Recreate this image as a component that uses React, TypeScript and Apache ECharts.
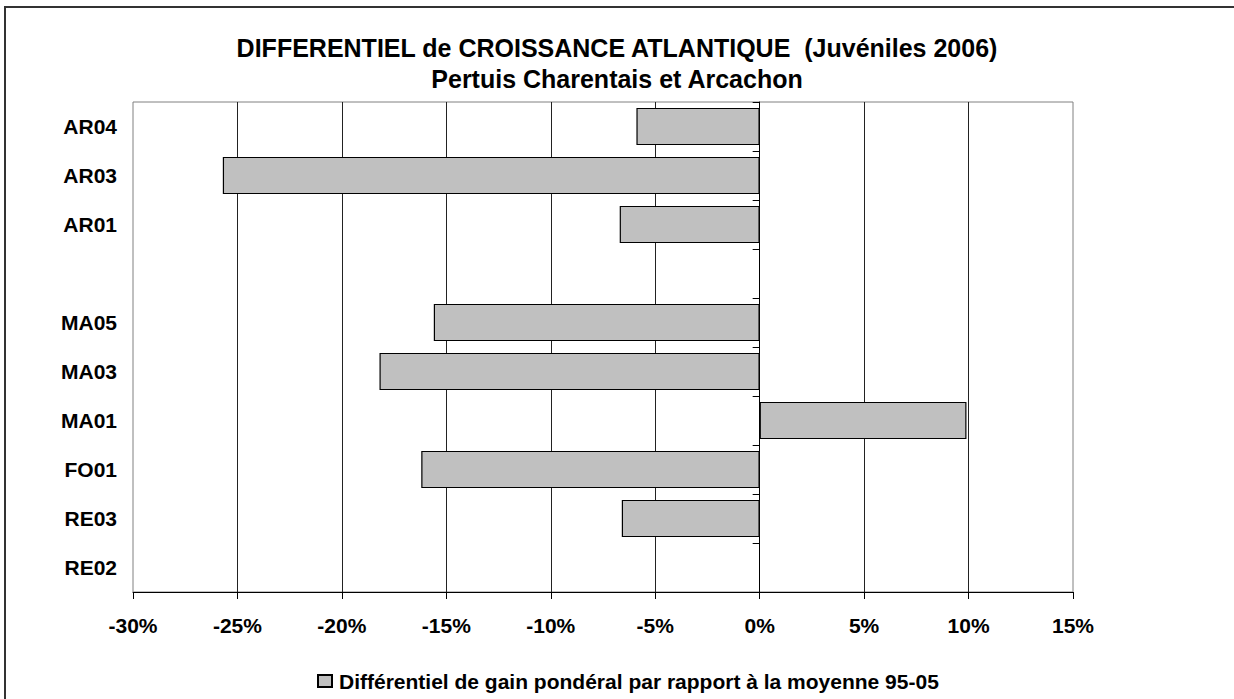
import React, { useEffect, useRef } from "react";
import * as echarts from "echarts";

const categories = ["RE02", "RE03", "FO01", "MA01", "MA03", "MA05", "", "AR01", "AR03", "AR04"];
const values: (number | null)[] = [null, -6.6, -16.2, 9.9, -18.2, -15.6, null, -6.7, -25.7, -5.9];
const seriesName = "Différentiel de gain pondéral par rapport à la moyenne 95-05";
const titleLines = ["DIFFERENTIEL de CROISSANCE ATLANTIQUE  (Juvéniles 2006)", "Pertuis Charentais et Arcachon"];
const xMin = -30;
const xMax = 15;
const xStep = 5;

const FONT = "'Liberation Sans', Arial, sans-serif";

export default function App() {
  const ref = useRef<HTMLDivElement>(null);
  useEffect(() => {
    if (!ref.current) return;
    const chart = echarts.init(ref.current, null, { renderer: "svg" });
    chart.setOption({
      animation: false,
      backgroundColor: "#ffffff",
      textStyle: { fontFamily: FONT },
      graphic: [
        {
          type: "rect",
          shape: { x: 5, y: 7, width: 1240, height: 700 },
          style: { fill: "none", stroke: "#333", lineWidth: 2 },
          silent: true,
        },
      ],
      title: {
        text: titleLines.join("\n"),
        left: "center",
        top: 27,
        textStyle: {
          fontFamily: FONT,
          fontWeight: "bold",
          fontSize: 25,
          lineHeight: 31,
          color: "#000",
          align: "center",
        },
      },
      legend: {
        left: 312,
        top: 664,
        icon: "rect",
        itemWidth: 14,
        itemHeight: 12,
        textStyle: {
          fontFamily: FONT,
          fontWeight: "bold",
          fontSize: 21,
          lineHeight: 24,
          color: "#000",
          padding: [0, 0, 0, 2],
        },
        data: [seriesName],
      },
      grid: {
        left: 133,
        top: 102,
        width: 940,
        height: 490,
        containLabel: false,
        outerBoundsMode: "none",
        show: true,
        borderColor: "#808080",
        borderWidth: 1,
        backgroundColor: "transparent",
      },
      xAxis: {
        type: "value",
        min: xMin,
        max: xMax,
        interval: xStep,
        axisLine: { show: true, lineStyle: { color: "#000", width: 1 } },
        axisTick: { show: true, length: 7, inside: false, lineStyle: { color: "#000" } },
        axisLabel: {
          formatter: (v: number) => `${v}%`,
          fontFamily: FONT,
          fontWeight: "bold",
          fontSize: 21,
          color: "#000",
          margin: 23,
        },
        splitLine: {
          show: true,
          showMinLine: false,
          showMaxLine: false,
          lineStyle: { color: "#222", width: 1 },
        },
      },
      yAxis: [
        {
          type: "category",
          data: categories,
          position: "left",
          axisLine: { show: false, onZero: false },
          axisTick: { show: false },
          axisLabel: {
            fontFamily: FONT,
            fontWeight: "bold",
            fontSize: 21,
            color: "#000",
            margin: 16,
            interval: 0,
          },
          splitLine: { show: false },
        },
        {
          type: "category",
          data: categories,
          position: "left",
          axisLine: { show: true, onZero: true, lineStyle: { color: "#000", width: 1 } },
          axisTick: { show: true, length: 7, inside: false, interval: 0, lineStyle: { color: "#000" } },
          axisLabel: { show: false },
          splitLine: { show: false },
        },
      ],
      series: [
        {
          name: seriesName,
          type: "bar",
          yAxisIndex: 0,
          data: values,
          barCategoryGap: "24%",
          itemStyle: { color: "#C0C0C0", borderColor: "#000", borderWidth: 1.2 },
        },
      ],
    });
    return () => chart.dispose();
  }, []);
  return (
    <div
      ref={ref}
      style={{ position: "absolute", left: 0, top: 0, width: 1234, height: 699 }}
    />
  );
}
